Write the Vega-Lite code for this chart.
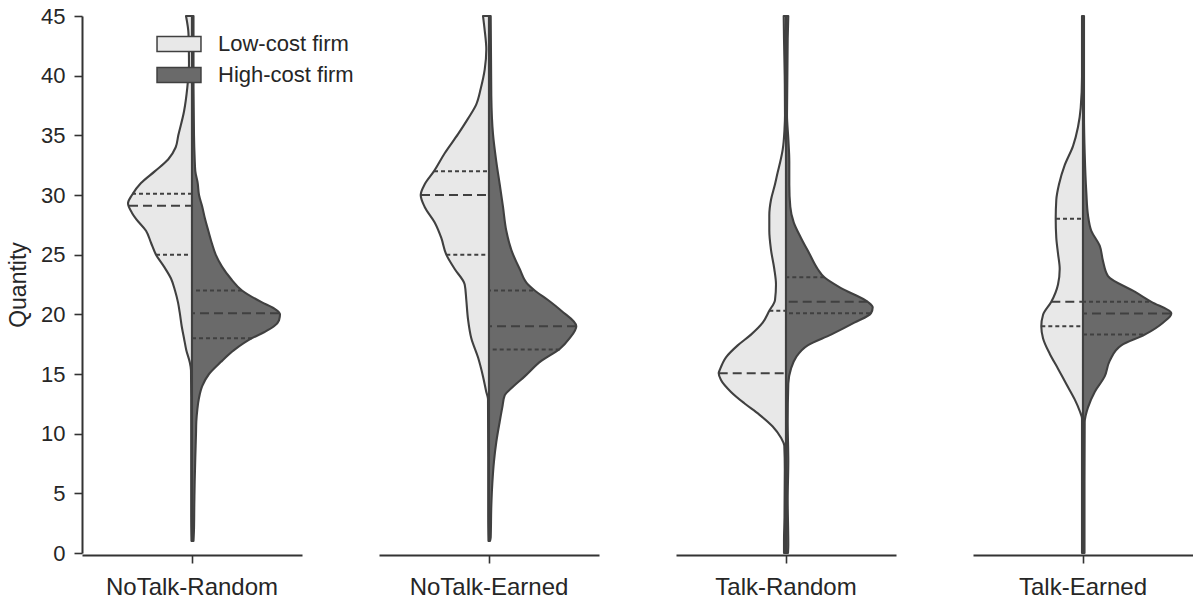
{
  "$schema": "https://vega.github.io/schema/vega-lite/v6.json",
  "padding": {"left": 7, "top": 5, "right": 0, "bottom": 0},
  "config": {
    "font": "Liberation Sans",
    "view": {"stroke": null},
    "axis": {"grid": false, "domainColor": "#333333", "tickColor": "#333333", "domainWidth": 2, "tickWidth": 1.6, "tickSize": 8, "labelColor": "#262626", "titleColor": "#262626"}
  },
  "data": {"values": [
    {"t":"NoTalk-Random","f":"Low-cost firm","k":"s","q":45,"d":-6},
    {"t":"NoTalk-Random","f":"Low-cost firm","k":"s","q":43.5,"d":-3.5},
    {"t":"NoTalk-Random","f":"Low-cost firm","k":"s","q":41,"d":-3},
    {"t":"NoTalk-Random","f":"Low-cost firm","k":"s","q":39,"d":-4.7},
    {"t":"NoTalk-Random","f":"Low-cost firm","k":"s","q":37,"d":-8},
    {"t":"NoTalk-Random","f":"Low-cost firm","k":"s","q":35,"d":-13.7},
    {"t":"NoTalk-Random","f":"Low-cost firm","k":"s","q":34,"d":-16.3},
    {"t":"NoTalk-Random","f":"Low-cost firm","k":"s","q":33,"d":-23.7},
    {"t":"NoTalk-Random","f":"Low-cost firm","k":"s","q":32,"d":-37},
    {"t":"NoTalk-Random","f":"Low-cost firm","k":"s","q":31,"d":-51},
    {"t":"NoTalk-Random","f":"Low-cost firm","k":"s","q":30,"d":-60},
    {"t":"NoTalk-Random","f":"Low-cost firm","k":"s","q":29.3,"d":-64},
    {"t":"NoTalk-Random","f":"Low-cost firm","k":"s","q":28.5,"d":-60},
    {"t":"NoTalk-Random","f":"Low-cost firm","k":"s","q":28,"d":-56},
    {"t":"NoTalk-Random","f":"Low-cost firm","k":"s","q":27,"d":-46},
    {"t":"NoTalk-Random","f":"Low-cost firm","k":"s","q":26,"d":-41},
    {"t":"NoTalk-Random","f":"Low-cost firm","k":"s","q":25,"d":-36},
    {"t":"NoTalk-Random","f":"Low-cost firm","k":"s","q":24,"d":-28},
    {"t":"NoTalk-Random","f":"Low-cost firm","k":"s","q":23,"d":-21},
    {"t":"NoTalk-Random","f":"Low-cost firm","k":"s","q":22,"d":-17},
    {"t":"NoTalk-Random","f":"Low-cost firm","k":"s","q":21,"d":-14},
    {"t":"NoTalk-Random","f":"Low-cost firm","k":"s","q":20,"d":-12},
    {"t":"NoTalk-Random","f":"Low-cost firm","k":"s","q":19,"d":-10.3},
    {"t":"NoTalk-Random","f":"Low-cost firm","k":"s","q":18,"d":-8},
    {"t":"NoTalk-Random","f":"Low-cost firm","k":"s","q":17,"d":-5.7},
    {"t":"NoTalk-Random","f":"Low-cost firm","k":"s","q":16,"d":-2.3},
    {"t":"NoTalk-Random","f":"Low-cost firm","k":"s","q":15.3,"d":-1},
    {"t":"NoTalk-Random","f":"Low-cost firm","k":"s","q":13,"d":-0.8},
    {"t":"NoTalk-Random","f":"Low-cost firm","k":"s","q":8,"d":-0.8},
    {"t":"NoTalk-Random","f":"Low-cost firm","k":"s","q":3,"d":-0.8},
    {"t":"NoTalk-Random","f":"Low-cost firm","k":"s","q":1,"d":-0.5},

    {"t":"NoTalk-Random","f":"High-cost firm","k":"s","q":45,"d":1.5},
    {"t":"NoTalk-Random","f":"High-cost firm","k":"s","q":40,"d":1.5},
    {"t":"NoTalk-Random","f":"High-cost firm","k":"s","q":35,"d":2},
    {"t":"NoTalk-Random","f":"High-cost firm","k":"s","q":33,"d":2.7},
    {"t":"NoTalk-Random","f":"High-cost firm","k":"s","q":32,"d":3.3},
    {"t":"NoTalk-Random","f":"High-cost firm","k":"s","q":31,"d":5.7},
    {"t":"NoTalk-Random","f":"High-cost firm","k":"s","q":30,"d":7},
    {"t":"NoTalk-Random","f":"High-cost firm","k":"s","q":29,"d":10.3},
    {"t":"NoTalk-Random","f":"High-cost firm","k":"s","q":28,"d":13},
    {"t":"NoTalk-Random","f":"High-cost firm","k":"s","q":27,"d":16.3},
    {"t":"NoTalk-Random","f":"High-cost firm","k":"s","q":26,"d":19.7},
    {"t":"NoTalk-Random","f":"High-cost firm","k":"s","q":25,"d":23.7},
    {"t":"NoTalk-Random","f":"High-cost firm","k":"s","q":24,"d":30},
    {"t":"NoTalk-Random","f":"High-cost firm","k":"s","q":23,"d":38.7},
    {"t":"NoTalk-Random","f":"High-cost firm","k":"s","q":22,"d":50},
    {"t":"NoTalk-Random","f":"High-cost firm","k":"s","q":21,"d":70},
    {"t":"NoTalk-Random","f":"High-cost firm","k":"s","q":20.5,"d":82},
    {"t":"NoTalk-Random","f":"High-cost firm","k":"s","q":20,"d":88},
    {"t":"NoTalk-Random","f":"High-cost firm","k":"s","q":19.5,"d":87},
    {"t":"NoTalk-Random","f":"High-cost firm","k":"s","q":19,"d":82},
    {"t":"NoTalk-Random","f":"High-cost firm","k":"s","q":18.5,"d":72},
    {"t":"NoTalk-Random","f":"High-cost firm","k":"s","q":18,"d":60},
    {"t":"NoTalk-Random","f":"High-cost firm","k":"s","q":17,"d":42},
    {"t":"NoTalk-Random","f":"High-cost firm","k":"s","q":16,"d":28.7},
    {"t":"NoTalk-Random","f":"High-cost firm","k":"s","q":15,"d":17},
    {"t":"NoTalk-Random","f":"High-cost firm","k":"s","q":14,"d":10.3},
    {"t":"NoTalk-Random","f":"High-cost firm","k":"s","q":13,"d":7},
    {"t":"NoTalk-Random","f":"High-cost firm","k":"s","q":12,"d":5.3},
    {"t":"NoTalk-Random","f":"High-cost firm","k":"s","q":11,"d":4.3},
    {"t":"NoTalk-Random","f":"High-cost firm","k":"s","q":10,"d":4},
    {"t":"NoTalk-Random","f":"High-cost firm","k":"s","q":8,"d":3.3},
    {"t":"NoTalk-Random","f":"High-cost firm","k":"s","q":6,"d":2.7},
    {"t":"NoTalk-Random","f":"High-cost firm","k":"s","q":4,"d":2.3},
    {"t":"NoTalk-Random","f":"High-cost firm","k":"s","q":2,"d":2},
    {"t":"NoTalk-Random","f":"High-cost firm","k":"s","q":1,"d":1.5},

    {"t":"NoTalk-Random","f":"Low-cost firm","k":"q","q":30.1,"d":-60},
    {"t":"NoTalk-Random","f":"Low-cost firm","k":"m","q":29.1,"d":-63},
    {"t":"NoTalk-Random","f":"Low-cost firm","k":"q","q":25,"d":-36},
    {"t":"NoTalk-Random","f":"High-cost firm","k":"q","q":22,"d":50},
    {"t":"NoTalk-Random","f":"High-cost firm","k":"m","q":20.1,"d":87},
    {"t":"NoTalk-Random","f":"High-cost firm","k":"q","q":18,"d":60},

    {"t":"NoTalk-Earned","f":"Low-cost firm","k":"s","q":45,"d":-6},
    {"t":"NoTalk-Earned","f":"Low-cost firm","k":"s","q":43.8,"d":-4.3},
    {"t":"NoTalk-Earned","f":"Low-cost firm","k":"s","q":42.2,"d":-2.7},
    {"t":"NoTalk-Earned","f":"Low-cost firm","k":"s","q":40.5,"d":-4.3},
    {"t":"NoTalk-Earned","f":"Low-cost firm","k":"s","q":38.9,"d":-8.3},
    {"t":"NoTalk-Earned","f":"Low-cost firm","k":"s","q":37.6,"d":-12.7},
    {"t":"NoTalk-Earned","f":"Low-cost firm","k":"s","q":36.4,"d":-21},
    {"t":"NoTalk-Earned","f":"Low-cost firm","k":"s","q":35.1,"d":-31},
    {"t":"NoTalk-Earned","f":"Low-cost firm","k":"s","q":33.5,"d":-44.3},
    {"t":"NoTalk-Earned","f":"Low-cost firm","k":"s","q":32,"d":-55},
    {"t":"NoTalk-Earned","f":"Low-cost firm","k":"s","q":30.9,"d":-64.3},
    {"t":"NoTalk-Earned","f":"Low-cost firm","k":"s","q":30,"d":-68.3},
    {"t":"NoTalk-Earned","f":"Low-cost firm","k":"s","q":29,"d":-64.3},
    {"t":"NoTalk-Earned","f":"Low-cost firm","k":"s","q":27.7,"d":-54.3},
    {"t":"NoTalk-Earned","f":"Low-cost firm","k":"s","q":26.4,"d":-47.7},
    {"t":"NoTalk-Earned","f":"Low-cost firm","k":"s","q":25,"d":-42.7},
    {"t":"NoTalk-Earned","f":"Low-cost firm","k":"s","q":23.8,"d":-34.3},
    {"t":"NoTalk-Earned","f":"Low-cost firm","k":"s","q":22.5,"d":-24.3},
    {"t":"NoTalk-Earned","f":"Low-cost firm","k":"s","q":21.2,"d":-22.7},
    {"t":"NoTalk-Earned","f":"Low-cost firm","k":"s","q":19.6,"d":-21},
    {"t":"NoTalk-Earned","f":"Low-cost firm","k":"s","q":18,"d":-17.7},
    {"t":"NoTalk-Earned","f":"Low-cost firm","k":"s","q":16.4,"d":-11},
    {"t":"NoTalk-Earned","f":"Low-cost firm","k":"s","q":14.8,"d":-6},
    {"t":"NoTalk-Earned","f":"Low-cost firm","k":"s","q":13.5,"d":-2.7},
    {"t":"NoTalk-Earned","f":"Low-cost firm","k":"s","q":12.9,"d":-1},
    {"t":"NoTalk-Earned","f":"Low-cost firm","k":"s","q":8,"d":-0.8},
    {"t":"NoTalk-Earned","f":"Low-cost firm","k":"s","q":3,"d":-0.8},
    {"t":"NoTalk-Earned","f":"Low-cost firm","k":"s","q":1,"d":-0.5},

    {"t":"NoTalk-Earned","f":"High-cost firm","k":"s","q":45,"d":1.7},
    {"t":"NoTalk-Earned","f":"High-cost firm","k":"s","q":38.3,"d":2.3},
    {"t":"NoTalk-Earned","f":"High-cost firm","k":"s","q":35.1,"d":4},
    {"t":"NoTalk-Earned","f":"High-cost firm","k":"s","q":32.8,"d":7.3},
    {"t":"NoTalk-Earned","f":"High-cost firm","k":"s","q":30.9,"d":10.7},
    {"t":"NoTalk-Earned","f":"High-cost firm","k":"s","q":29,"d":14},
    {"t":"NoTalk-Earned","f":"High-cost firm","k":"s","q":27,"d":17.3},
    {"t":"NoTalk-Earned","f":"High-cost firm","k":"s","q":25.4,"d":22.3},
    {"t":"NoTalk-Earned","f":"High-cost firm","k":"s","q":23.8,"d":30.7},
    {"t":"NoTalk-Earned","f":"High-cost firm","k":"s","q":22.5,"d":39},
    {"t":"NoTalk-Earned","f":"High-cost firm","k":"s","q":22,"d":45.7},
    {"t":"NoTalk-Earned","f":"High-cost firm","k":"s","q":21.2,"d":59},
    {"t":"NoTalk-Earned","f":"High-cost firm","k":"s","q":20.3,"d":72.3},
    {"t":"NoTalk-Earned","f":"High-cost firm","k":"s","q":19,"d":87.3},
    {"t":"NoTalk-Earned","f":"High-cost firm","k":"s","q":18,"d":80.7},
    {"t":"NoTalk-Earned","f":"High-cost firm","k":"s","q":17.1,"d":70.7},
    {"t":"NoTalk-Earned","f":"High-cost firm","k":"s","q":16.1,"d":52.3},
    {"t":"NoTalk-Earned","f":"High-cost firm","k":"s","q":14.8,"d":35.7},
    {"t":"NoTalk-Earned","f":"High-cost firm","k":"s","q":13.8,"d":22.3},
    {"t":"NoTalk-Earned","f":"High-cost firm","k":"s","q":13.2,"d":15.7},
    {"t":"NoTalk-Earned","f":"High-cost firm","k":"s","q":12.2,"d":13.3},
    {"t":"NoTalk-Earned","f":"High-cost firm","k":"s","q":11,"d":10.7},
    {"t":"NoTalk-Earned","f":"High-cost firm","k":"s","q":9.3,"d":7.3},
    {"t":"NoTalk-Earned","f":"High-cost firm","k":"s","q":7.7,"d":5},
    {"t":"NoTalk-Earned","f":"High-cost firm","k":"s","q":5.8,"d":3.3},
    {"t":"NoTalk-Earned","f":"High-cost firm","k":"s","q":3.9,"d":2.3},
    {"t":"NoTalk-Earned","f":"High-cost firm","k":"s","q":1.3,"d":1.7},
    {"t":"NoTalk-Earned","f":"High-cost firm","k":"s","q":1,"d":1},

    {"t":"NoTalk-Earned","f":"Low-cost firm","k":"q","q":32,"d":-55},
    {"t":"NoTalk-Earned","f":"Low-cost firm","k":"m","q":30,"d":-68},
    {"t":"NoTalk-Earned","f":"Low-cost firm","k":"q","q":25,"d":-42.7},
    {"t":"NoTalk-Earned","f":"High-cost firm","k":"q","q":22,"d":44},
    {"t":"NoTalk-Earned","f":"High-cost firm","k":"m","q":19,"d":87},
    {"t":"NoTalk-Earned","f":"High-cost firm","k":"q","q":17.06,"d":70.7},

    {"t":"Talk-Random","f":"Low-cost firm","k":"s","q":45,"d":-2.3},
    {"t":"Talk-Random","f":"Low-cost firm","k":"s","q":43.1,"d":-2},
    {"t":"Talk-Random","f":"Low-cost firm","k":"s","q":40,"d":-1.3},
    {"t":"Talk-Random","f":"Low-cost firm","k":"s","q":36.7,"d":-1},
    {"t":"Talk-Random","f":"Low-cost firm","k":"s","q":35.5,"d":-1.5},
    {"t":"Talk-Random","f":"Low-cost firm","k":"s","q":33.8,"d":-3.3},
    {"t":"Talk-Random","f":"Low-cost firm","k":"s","q":32.8,"d":-5.7},
    {"t":"Talk-Random","f":"Low-cost firm","k":"s","q":31.9,"d":-8.3},
    {"t":"Talk-Random","f":"Low-cost firm","k":"s","q":30.9,"d":-11},
    {"t":"Talk-Random","f":"Low-cost firm","k":"s","q":29.6,"d":-15},
    {"t":"Talk-Random","f":"Low-cost firm","k":"s","q":28.3,"d":-16.7},
    {"t":"Talk-Random","f":"Low-cost firm","k":"s","q":27,"d":-16.7},
    {"t":"Talk-Random","f":"Low-cost firm","k":"s","q":25.4,"d":-15},
    {"t":"Talk-Random","f":"Low-cost firm","k":"s","q":23.8,"d":-11.7},
    {"t":"Talk-Random","f":"Low-cost firm","k":"s","q":22.5,"d":-10},
    {"t":"Talk-Random","f":"Low-cost firm","k":"s","q":21.2,"d":-11},
    {"t":"Talk-Random","f":"Low-cost firm","k":"s","q":20.3,"d":-16.7},
    {"t":"Talk-Random","f":"Low-cost firm","k":"s","q":19.3,"d":-23.3},
    {"t":"Talk-Random","f":"Low-cost firm","k":"s","q":18.3,"d":-35},
    {"t":"Talk-Random","f":"Low-cost firm","k":"s","q":17.4,"d":-48.3},
    {"t":"Talk-Random","f":"Low-cost firm","k":"s","q":16.4,"d":-60},
    {"t":"Talk-Random","f":"Low-cost firm","k":"s","q":15.45,"d":-65.7},
    {"t":"Talk-Random","f":"Low-cost firm","k":"s","q":15.06,"d":-67.3},
    {"t":"Talk-Random","f":"Low-cost firm","k":"s","q":14.5,"d":-65},
    {"t":"Talk-Random","f":"Low-cost firm","k":"s","q":13.5,"d":-55},
    {"t":"Talk-Random","f":"Low-cost firm","k":"s","q":12.55,"d":-41.7},
    {"t":"Talk-Random","f":"Low-cost firm","k":"s","q":11.6,"d":-26.7},
    {"t":"Talk-Random","f":"Low-cost firm","k":"s","q":10.6,"d":-13.3},
    {"t":"Talk-Random","f":"Low-cost firm","k":"s","q":9.65,"d":-5},
    {"t":"Talk-Random","f":"Low-cost firm","k":"s","q":9,"d":-1.7},
    {"t":"Talk-Random","f":"Low-cost firm","k":"s","q":7,"d":-1.2},
    {"t":"Talk-Random","f":"Low-cost firm","k":"s","q":3,"d":-1.5},
    {"t":"Talk-Random","f":"Low-cost firm","k":"s","q":1,"d":-2},
    {"t":"Talk-Random","f":"Low-cost firm","k":"s","q":0,"d":-2},

    {"t":"Talk-Random","f":"High-cost firm","k":"s","q":45,"d":2.3},
    {"t":"Talk-Random","f":"High-cost firm","k":"s","q":43.1,"d":1.7},
    {"t":"Talk-Random","f":"High-cost firm","k":"s","q":36.7,"d":1},
    {"t":"Talk-Random","f":"High-cost firm","k":"s","q":34.75,"d":2.3},
    {"t":"Talk-Random","f":"High-cost firm","k":"s","q":32.8,"d":3.3},
    {"t":"Talk-Random","f":"High-cost firm","k":"s","q":30.9,"d":3.3},
    {"t":"Talk-Random","f":"High-cost firm","k":"s","q":29,"d":4.3},
    {"t":"Talk-Random","f":"High-cost firm","k":"s","q":27.7,"d":7.7},
    {"t":"Talk-Random","f":"High-cost firm","k":"s","q":26.4,"d":15},
    {"t":"Talk-Random","f":"High-cost firm","k":"s","q":25.1,"d":23.3},
    {"t":"Talk-Random","f":"High-cost firm","k":"s","q":23.8,"d":31.7},
    {"t":"Talk-Random","f":"High-cost firm","k":"s","q":23.1,"d":38.3},
    {"t":"Talk-Random","f":"High-cost firm","k":"s","q":22.2,"d":55},
    {"t":"Talk-Random","f":"High-cost firm","k":"s","q":21.05,"d":81.7},
    {"t":"Talk-Random","f":"High-cost firm","k":"s","q":20.6,"d":86.7},
    {"t":"Talk-Random","f":"High-cost firm","k":"s","q":20.1,"d":85},
    {"t":"Talk-Random","f":"High-cost firm","k":"s","q":19.3,"d":68.3},
    {"t":"Talk-Random","f":"High-cost firm","k":"s","q":18.3,"d":45},
    {"t":"Talk-Random","f":"High-cost firm","k":"s","q":17.4,"d":21.7},
    {"t":"Talk-Random","f":"High-cost firm","k":"s","q":16.4,"d":10},
    {"t":"Talk-Random","f":"High-cost firm","k":"s","q":15.45,"d":5},
    {"t":"Talk-Random","f":"High-cost firm","k":"s","q":14.2,"d":2.3},
    {"t":"Talk-Random","f":"High-cost firm","k":"s","q":11,"d":1.7},
    {"t":"Talk-Random","f":"High-cost firm","k":"s","q":7.7,"d":2.3},
    {"t":"Talk-Random","f":"High-cost firm","k":"s","q":4.5,"d":1.7},
    {"t":"Talk-Random","f":"High-cost firm","k":"s","q":0.7,"d":2.3},
    {"t":"Talk-Random","f":"High-cost firm","k":"s","q":0,"d":2},

    {"t":"Talk-Random","f":"Low-cost firm","k":"q","q":20.3,"d":-16.7},
    {"t":"Talk-Random","f":"Low-cost firm","k":"m","q":15.06,"d":-67.3},
    {"t":"Talk-Random","f":"High-cost firm","k":"q","q":23.1,"d":38.3},
    {"t":"Talk-Random","f":"High-cost firm","k":"m","q":21.05,"d":81.7},
    {"t":"Talk-Random","f":"High-cost firm","k":"q","q":20.1,"d":84},

    {"t":"Talk-Earned","f":"Low-cost firm","k":"s","q":45,"d":-1},
    {"t":"Talk-Earned","f":"Low-cost firm","k":"s","q":39.9,"d":-1},
    {"t":"Talk-Earned","f":"Low-cost firm","k":"s","q":37.3,"d":-2.3},
    {"t":"Talk-Earned","f":"Low-cost firm","k":"s","q":35.7,"d":-5},
    {"t":"Talk-Earned","f":"Low-cost firm","k":"s","q":34.1,"d":-10},
    {"t":"Talk-Earned","f":"Low-cost firm","k":"s","q":32.5,"d":-18.3},
    {"t":"Talk-Earned","f":"Low-cost firm","k":"s","q":30.9,"d":-24},
    {"t":"Talk-Earned","f":"Low-cost firm","k":"s","q":29.6,"d":-26.7},
    {"t":"Talk-Earned","f":"Low-cost firm","k":"s","q":28,"d":-27.3},
    {"t":"Talk-Earned","f":"Low-cost firm","k":"s","q":26.4,"d":-26.7},
    {"t":"Talk-Earned","f":"Low-cost firm","k":"s","q":25.1,"d":-25},
    {"t":"Talk-Earned","f":"Low-cost firm","k":"s","q":23.8,"d":-23.3},
    {"t":"Talk-Earned","f":"Low-cost firm","k":"s","q":22.5,"d":-25},
    {"t":"Talk-Earned","f":"Low-cost firm","k":"s","q":21.05,"d":-31.7},
    {"t":"Talk-Earned","f":"Low-cost firm","k":"s","q":19.95,"d":-40},
    {"t":"Talk-Earned","f":"Low-cost firm","k":"s","q":19,"d":-41.7},
    {"t":"Talk-Earned","f":"Low-cost firm","k":"s","q":18,"d":-40},
    {"t":"Talk-Earned","f":"Low-cost firm","k":"s","q":16.7,"d":-33.3},
    {"t":"Talk-Earned","f":"Low-cost firm","k":"s","q":15.45,"d":-25},
    {"t":"Talk-Earned","f":"Low-cost firm","k":"s","q":14.16,"d":-16.7},
    {"t":"Talk-Earned","f":"Low-cost firm","k":"s","q":12.87,"d":-8.3},
    {"t":"Talk-Earned","f":"Low-cost firm","k":"s","q":11.9,"d":-3.3},
    {"t":"Talk-Earned","f":"Low-cost firm","k":"s","q":11.26,"d":-1},
    {"t":"Talk-Earned","f":"Low-cost firm","k":"s","q":6,"d":-1},
    {"t":"Talk-Earned","f":"Low-cost firm","k":"s","q":0,"d":-1},

    {"t":"Talk-Earned","f":"High-cost firm","k":"s","q":45,"d":1},
    {"t":"Talk-Earned","f":"High-cost firm","k":"s","q":36.7,"d":1},
    {"t":"Talk-Earned","f":"High-cost firm","k":"s","q":33.5,"d":1.7},
    {"t":"Talk-Earned","f":"High-cost firm","k":"s","q":30.25,"d":3.3},
    {"t":"Talk-Earned","f":"High-cost firm","k":"s","q":28.3,"d":5},
    {"t":"Talk-Earned","f":"High-cost firm","k":"s","q":27,"d":8.3},
    {"t":"Talk-Earned","f":"High-cost firm","k":"s","q":25.75,"d":16.7},
    {"t":"Talk-Earned","f":"High-cost firm","k":"s","q":24.46,"d":20},
    {"t":"Talk-Earned","f":"High-cost firm","k":"s","q":23.2,"d":25},
    {"t":"Talk-Earned","f":"High-cost firm","k":"s","q":21.9,"d":51.7},
    {"t":"Talk-Earned","f":"High-cost firm","k":"s","q":21.05,"d":68.3},
    {"t":"Talk-Earned","f":"High-cost firm","k":"s","q":20.08,"d":88.3},
    {"t":"Talk-Earned","f":"High-cost firm","k":"s","q":19.3,"d":80},
    {"t":"Talk-Earned","f":"High-cost firm","k":"s","q":18.3,"d":61.7},
    {"t":"Talk-Earned","f":"High-cost firm","k":"s","q":17.4,"d":38.3},
    {"t":"Talk-Earned","f":"High-cost firm","k":"s","q":16.1,"d":26.7},
    {"t":"Talk-Earned","f":"High-cost firm","k":"s","q":14.8,"d":21.7},
    {"t":"Talk-Earned","f":"High-cost firm","k":"s","q":13.5,"d":11.7},
    {"t":"Talk-Earned","f":"High-cost firm","k":"s","q":12.2,"d":5},
    {"t":"Talk-Earned","f":"High-cost firm","k":"s","q":10.95,"d":1.7},
    {"t":"Talk-Earned","f":"High-cost firm","k":"s","q":6,"d":1.5},
    {"t":"Talk-Earned","f":"High-cost firm","k":"s","q":0,"d":1.5},

    {"t":"Talk-Earned","f":"Low-cost firm","k":"q","q":28,"d":-27},
    {"t":"Talk-Earned","f":"Low-cost firm","k":"m","q":21.05,"d":-31.7},
    {"t":"Talk-Earned","f":"Low-cost firm","k":"q","q":19,"d":-41.7},
    {"t":"Talk-Earned","f":"High-cost firm","k":"q","q":21.05,"d":66},
    {"t":"Talk-Earned","f":"High-cost firm","k":"m","q":20.08,"d":88},
    {"t":"Talk-Earned","f":"High-cost firm","k":"q","q":18.3,"d":60}
  ]},
  "facet": {
    "column": {
      "field": "t",
      "type": "nominal",
      "title": null,
      "sort": ["NoTalk-Random", "NoTalk-Earned", "Talk-Random", "Talk-Earned"],
      "header": {"labelOrient": "bottom", "labelFontSize": 24, "labelColor": "#262626", "labelPadding": 12}
    }
  },
  "spacing": 77,
  "spec": {
    "width": 220,
    "height": 537,
    "encoding": {
      "y": {
        "field": "q", "type": "quantitative",
        "scale": {"domain": [0, 45], "nice": false, "zero": false},
        "axis": {"values": [0,5,10,15,20,25,30,35,40,45], "title": "Quantity", "titleFontSize": 23, "titleFontWeight": "normal", "labelFontSize": 22, "labelPadding": 9, "titlePadding": 10}
      },
      "x": {
        "field": "d", "type": "quantitative",
        "scale": {"domain": [-110, 110], "nice": false, "zero": false},
        "axis": {"values": [0], "labels": false, "title": null}
      },
      "x2": {"datum": 0}
    },
    "layer": [
      {
        "transform": [{"filter": "datum.k === 's'"}],
        "mark": {"type": "area", "orient": "horizontal", "stroke": "#404040", "strokeWidth": 2.1, "strokeJoin": "round", "interpolate": "monotone"},
        "encoding": {
          "color": {
            "field": "f", "type": "nominal",
            "scale": {"domain": ["Low-cost firm", "High-cost firm"], "range": ["#e8e8e8", "#6a6a6a"]},
            "legend": {
              "title": null,
              "orient": "none",
              "legendX": 86,
              "legendY": 17,
              "symbolType": "M-2.93,-1H2.93V1H-2.93Z",
              "symbolSize": 225,
              "symbolStrokeColor": "#404040",
              "symbolStrokeWidth": 1.5,
              "symbolOpacity": 1,
              "labelFontSize": 22,
              "labelColor": "#262626",
              "labelOffset": 28,
              "rowPadding": 9
            }
          }
        }
      },
      {
        "transform": [{"filter": "datum.k === 'q'"}],
        "mark": {"type": "rule", "stroke": "#404040", "strokeWidth": 2, "strokeDash": [4, 3]}
      },
      {
        "transform": [{"filter": "datum.k === 'm'"}],
        "mark": {"type": "rule", "stroke": "#404040", "strokeWidth": 2, "strokeDash": [9, 5]}
      }
    ]
  }
}
